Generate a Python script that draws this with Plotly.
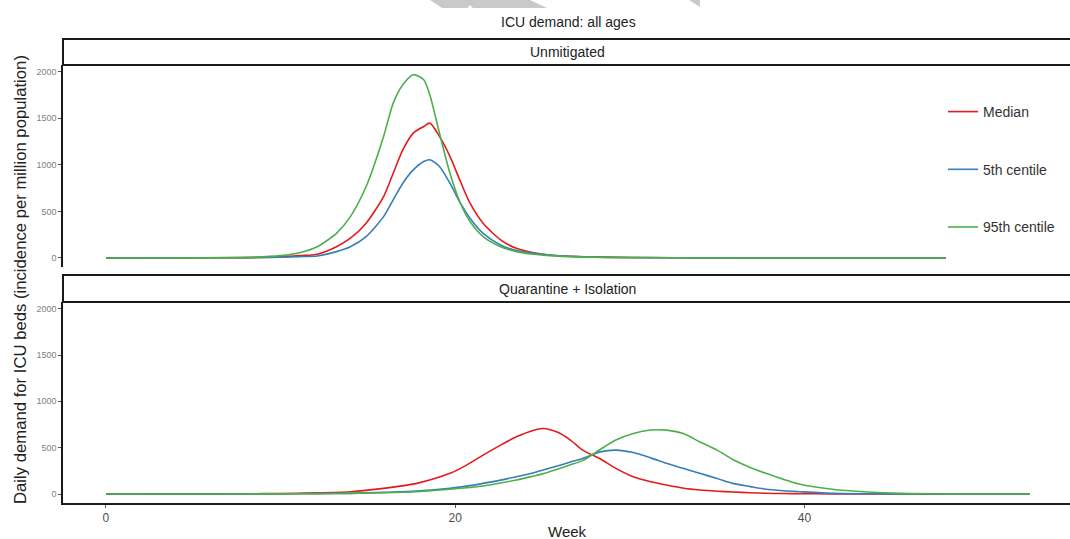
import plotly.graph_objects as go

W, H = 1070, 539

# ---------------- data ----------------
series_names = ["Median", "5th centile", "95th centile"]
series_colors = ["#E41A1C", "#377EB8", "#4DAF4A"]

weeks_unmit = [0, 4, 8, 10, 11.1, 12.1, 13.2, 14.0, 14.9, 15.9, 16.45, 17.0, 17.6, 18.2,
               18.55, 19.1, 19.7, 20.3, 20.85, 21.6, 22.6, 23.5, 24.5, 25.4, 27, 30, 35, 40, 48.1]
median_unmit = [0, 1, 4, 12, 25, 40, 121, 212, 373, 659, 910, 1161, 1341, 1412,
                1448, 1305, 1090, 821, 588, 373, 194, 104, 57, 32, 14, 5, 1, 0, 0]
p5_unmit = [0, 1, 3, 8, 14, 21, 68, 121, 229, 444, 624, 803, 946, 1036,
            1054, 982, 803, 588, 427, 265, 140, 79, 50, 32, 15, 5, 1, 0, 0]
p95_unmit = [0, 1, 6, 25, 57, 121, 265, 444, 767, 1305, 1663, 1860, 1968, 1914,
             1750, 1341, 910, 588, 391, 229, 121, 68, 40, 25, 12, 4, 1, 0, 0]

weeks_qi = [0, 5, 8.25, 10, 12, 14.0, 15.9, 17.8, 19.7, 20.65, 21.6, 22.6, 23.5, 24.5,
            25.05, 25.8, 26.6, 27.3, 28.3, 29.2, 30.2, 31.2, 32.1, 33.1, 34.0, 35.0,
            35.9, 36.9, 37.8, 38.8, 39.7, 41.6, 43.6, 45.5, 48, 52.9]
median_qi = [0, 1, 3, 6, 12, 25, 61, 115, 223, 312, 420, 528, 617, 689,
             707, 671, 582, 474, 380, 277, 187, 133, 97, 62, 43, 30,
             22, 13, 8, 5, 3, 2, 1, 0, 0, 0]
p5_qi = [0, 0, 1, 2, 4, 7, 18, 32, 61, 85, 115, 150, 187, 230,
         260, 300, 345, 384, 455, 474, 447, 390, 331, 275, 223, 168,
         115, 80, 51, 35, 25, 7, 3, 1, 0, 0]
p95_qi = [0, 0, 1, 2, 4, 7, 14, 25, 51, 68, 86, 118, 151, 195,
          220, 265, 315, 360, 480, 582, 653, 690, 689, 650, 563, 474,
          373, 287, 223, 158, 108, 51, 22, 7, 2, 0]

panel_titles = ["Unmitigated", "Quarantine + Isolation"]
y_ticks = [0, 500, 1000, 1500, 2000]
x_ticks = [0, 20, 40]

# ---------------- layout helpers ----------------
def px_x(p):
    return p / W

def px_y(p):
    return 1 - p / H

x_left = 63
top_panel = (65, 267)
bot_panel = (302, 503)
top_strip = (39, 65)
bot_strip = (275, 302)

fig = go.Figure()

unmit = [median_unmit, p5_unmit, p95_unmit]
qi = [median_qi, p5_qi, p95_qi]

for i, name in enumerate(series_names):
    fig.add_trace(go.Scatter(
        x=weeks_unmit, y=unmit[i], mode="lines", name=name,
        line=dict(color=series_colors[i], width=1.6, shape="spline", smoothing=0.7),
        xaxis="x", yaxis="y", legendgroup=name, showlegend=True))
for i, name in enumerate(series_names):
    fig.add_trace(go.Scatter(
        x=weeks_qi, y=qi[i], mode="lines", name=name,
        line=dict(color=series_colors[i], width=1.6, shape="spline", smoothing=0.7),
        xaxis="x2", yaxis="y2", legendgroup=name, showlegend=False))

xr = [-2.46, 55.21]
yr = [-97, 2072]

tickfont_y = dict(family="Liberation Sans, Arial, sans-serif", size=9, color="#808080")
tickfont_x = dict(family="Liberation Sans, Arial, sans-serif", size=12, color="#4d4d4d")

fig.update_layout(
    width=W, height=H,
    margin=dict(l=0, r=0, t=0, b=0),
    paper_bgcolor="white", plot_bgcolor="white",
    showlegend=True,
    legend=dict(
        x=px_x(943), y=px_y(96), xanchor="left", yanchor="top",
        bgcolor="rgba(0,0,0,0)", tracegroupgap=36.5,
        font=dict(family="Liberation Sans, Arial, sans-serif", size=14, color="#333333"),
        itemwidth=30,
    ),
    xaxis=dict(domain=[px_x(x_left), 1], range=xr, anchor="y",
               showline=False, showticklabels=False, ticks="", showgrid=False,
               zeroline=False, matches="x2"),
    yaxis=dict(domain=[px_y(top_panel[1]), px_y(top_panel[0])], range=yr, anchor="x",
               showline=True, linecolor="#1a1a1a", linewidth=1.5,
               ticks="outside", ticklen=3, tickcolor="#555555", tickwidth=1,
               tickvals=y_ticks, tickfont=tickfont_y, showgrid=False, zeroline=False),
    xaxis2=dict(domain=[px_x(x_left), 1], range=xr, anchor="y2",
                showline=True, linecolor="#1a1a1a", linewidth=1.5,
                ticks="outside", ticklen=3, tickcolor="#555555", tickwidth=1,
                tickvals=x_ticks, tickfont=tickfont_x, showgrid=False, zeroline=False),
    yaxis2=dict(domain=[px_y(bot_panel[1]), px_y(bot_panel[0])], range=yr, anchor="x2",
                showline=True, linecolor="#1a1a1a", linewidth=1.5,
                ticks="outside", ticklen=3, tickcolor="#555555", tickwidth=1,
                tickvals=y_ticks, tickfont=tickfont_y, showgrid=False, zeroline=False),
)

shapes = []
for (s0, s1) in [top_strip, bot_strip]:
    shapes.append(dict(type="rect", xref="paper", yref="paper",
                       x0=px_x(x_left), x1=1.01, y0=px_y(s1), y1=px_y(s0),
                       line=dict(color="#1a1a1a", width=2), fillcolor="white", layer="above"))

# faint grey watermark fragments at top edge
shapes.append(dict(type="path", xref="paper", yref="paper",
                   path="M {} {} L {} {} L {} {} L {} {} L {} {} L {} {} L {} {} Z".format(
                       px_x(430), px_y(0), px_x(442), px_y(8), px_x(467), px_y(8),
                       px_x(470), px_y(5), px_x(473), px_y(8), px_x(547), px_y(8),
                       px_x(530), px_y(0)),
                   line=dict(width=0), fillcolor="#c9c9c9"))
shapes.append(dict(type="path", xref="paper", yref="paper",
                   path="M {} {} L {} {} L {} {} Z".format(
                       px_x(689), px_y(0), px_x(700), px_y(0), px_x(700), px_y(7)),
                   line=dict(width=0), fillcolor="#c9c9c9"))
fig.update_layout(shapes=shapes)

font_txt = "Liberation Sans, Arial, sans-serif"
annotations = [
    dict(text="ICU demand: all ages", x=px_x(568), y=px_y(22), xref="paper", yref="paper",
         showarrow=False, xanchor="center", yanchor="middle",
         font=dict(family=font_txt, size=14, color="#222222")),
    dict(text=panel_titles[0], x=px_x(567), y=px_y(52), xref="paper", yref="paper",
         showarrow=False, xanchor="center", yanchor="middle",
         font=dict(family=font_txt, size=14, color="#222222")),
    dict(text=panel_titles[1], x=px_x(567), y=px_y(289), xref="paper", yref="paper",
         showarrow=False, xanchor="center", yanchor="middle",
         font=dict(family=font_txt, size=14, color="#222222")),
    dict(text="Week", x=px_x(567), y=px_y(531), xref="paper", yref="paper",
         showarrow=False, xanchor="center", yanchor="middle",
         font=dict(family=font_txt, size=15, color="#222222")),
    dict(text="Daily demand for ICU beds (incidence per million population)",
         x=px_x(20), y=px_y(280), xref="paper", yref="paper", textangle=-90,
         showarrow=False, xanchor="center", yanchor="middle",
         font=dict(family=font_txt, size=16.7, color="#222222")),
]
fig.update_layout(annotations=annotations)

fig.write_html("out.html", config={"displayModeBar": False},
               post_script="document.body.style.margin='0';document.body.style.overflow='hidden';")
